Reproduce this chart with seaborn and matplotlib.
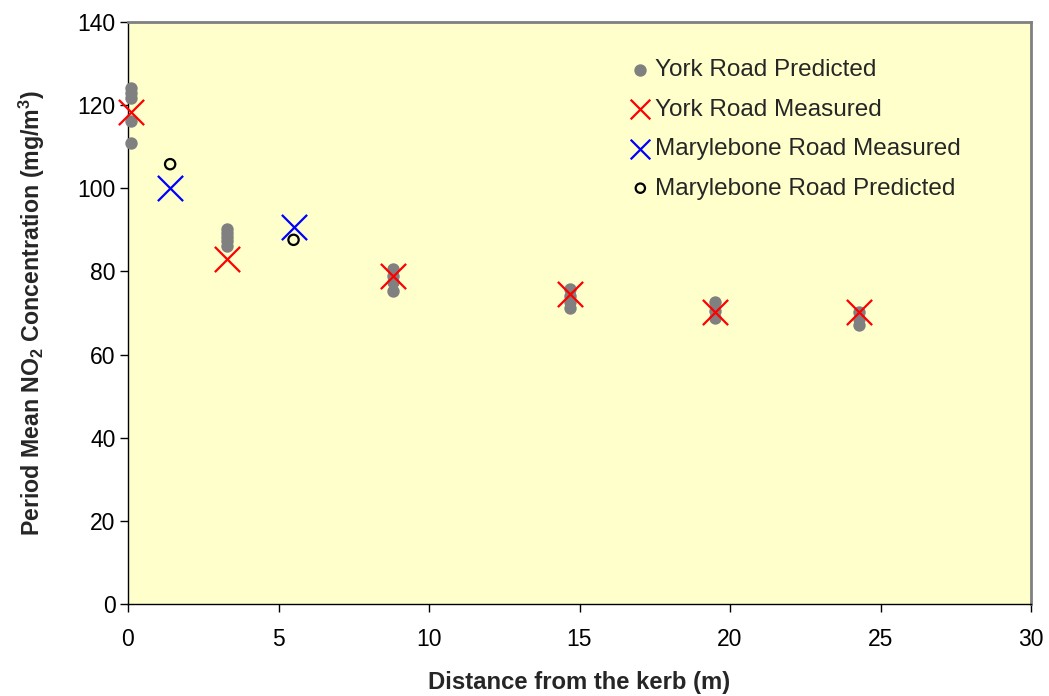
import numpy as np
import pandas as pd
import matplotlib
matplotlib.use("Agg")
import matplotlib.pyplot as plt
import seaborn as sns

# York Road: predicted concentrations at each receptor distance
york_pred_x = [0.1, 0.1, 0.1, 0.1, 0.1,
               3.3, 3.3, 3.3, 3.3, 3.3,
               8.8, 8.8, 8.8, 8.8,
               14.7, 14.7, 14.7, 14.7,
               19.5, 19.5, 19.5,
               24.3, 24.3, 24.3]
york_pred_y = [124.2, 123.0, 121.8, 116.2, 110.8,
               90.2, 89.2, 88.2, 87.2, 86.2,
               80.5, 79.0, 77.5, 75.3,
               75.8, 74.2, 72.6, 71.2,
               72.6, 70.6, 68.8,
               70.2, 68.6, 67.2]

# York Road: measured concentrations
york_meas_x = [0.1, 3.3, 8.8, 14.7, 19.5, 24.3]
york_meas_y = [118.4, 83.0, 79.0, 74.6, 70.2, 70.2]

# Marylebone Road: measured and predicted
mary_meas_x = [1.4, 5.5]
mary_meas_y = [100.0, 90.7]
mary_pred_x = [1.4, 5.5]
mary_pred_y = [105.8, 87.6]

x_ticks = [0, 5, 10, 15, 20, 25, 30]
y_ticks = [0, 20, 40, 60, 80, 100, 120, 140]

sns.set_theme(style="ticks")
plt.rcParams["font.family"] = ["Liberation Sans", "DejaVu Sans"]
plt.rcParams["mathtext.fontset"] = "custom"
plt.rcParams["mathtext.rm"] = "Liberation Sans"
plt.rcParams["mathtext.bf"] = "Liberation Sans:bold"

fig = plt.figure(figsize=(10.49, 6.96), dpi=100)
ax = fig.add_axes([128 / 1049, 1 - 604 / 696, (1031 - 128) / 1049, (604 - 22) / 696])
ax.set_facecolor("#FFFFCC")

df_yp = pd.DataFrame({"x": york_pred_x, "y": york_pred_y})
df_ym = pd.DataFrame({"x": york_meas_x, "y": york_meas_y})
df_mm = pd.DataFrame({"x": mary_meas_x, "y": mary_meas_y})
df_mp = pd.DataFrame({"x": mary_pred_x, "y": mary_pred_y})

sns.scatterplot(data=df_yp, x="x", y="y", ax=ax, marker="o", s=80,
                color="#808080", edgecolor="#808080", linewidth=0,
                label="York Road Predicted", clip_on=False, zorder=3)
sns.scatterplot(data=df_ym, x="x", y="y", ax=ax, marker="x", s=330,
                color="#FF0000", linewidth=1.6,
                label="York Road Measured", clip_on=False, zorder=4)
sns.scatterplot(data=df_mm, x="x", y="y", ax=ax, marker="x", s=330,
                color="#0000FF", linewidth=1.6,
                label="Marylebone Road Measured", clip_on=False, zorder=4)
sns.scatterplot(data=df_mp, x="x", y="y", ax=ax, marker="o", s=55,
                facecolor="none", edgecolor="black", linewidth=1.6,
                label="Marylebone Road Predicted", clip_on=False, zorder=4)

ax.set_xlim(0, 30)
ax.set_ylim(0, 140)
ax.set_xticks(x_ticks)
ax.set_yticks(y_ticks)
ax.tick_params(axis="both", direction="out", length=6, width=1,
               labelsize=16.5, colors="black")
ax.tick_params(axis="y", pad=3)
ax.tick_params(axis="x", pad=11)

for side in ("top", "right"):
    ax.spines[side].set_visible(True)
    ax.spines[side].set_color("#808080")
    ax.spines[side].set_linewidth(2)
for side in ("left", "bottom"):
    ax.spines[side].set_color("black")
    ax.spines[side].set_linewidth(1)

ax.set_xlabel("Distance from the kerb (m)", fontsize=17.2, fontweight="bold",
              labelpad=15)
ax.set_ylabel(r"Period Mean NO$_\mathbf{2}$ Concentration (mg/m$^\mathbf{3}$)",
              fontsize=16.7, fontweight="bold", labelpad=22)

leg = ax.legend(loc="upper left", bbox_to_anchor=(0.527, 0.974), frameon=False,
                fontsize=17.5, handletextpad=0.0, labelspacing=0.72,
                handlelength=1.2)
# legend symbols drawn a touch smaller than the plotted marks
for h, size in zip(leg.legend_handles, [80, 200, 200, 45]):
    h.set_sizes([size])

fig.savefig("out.png", dpi=100, facecolor="white")
